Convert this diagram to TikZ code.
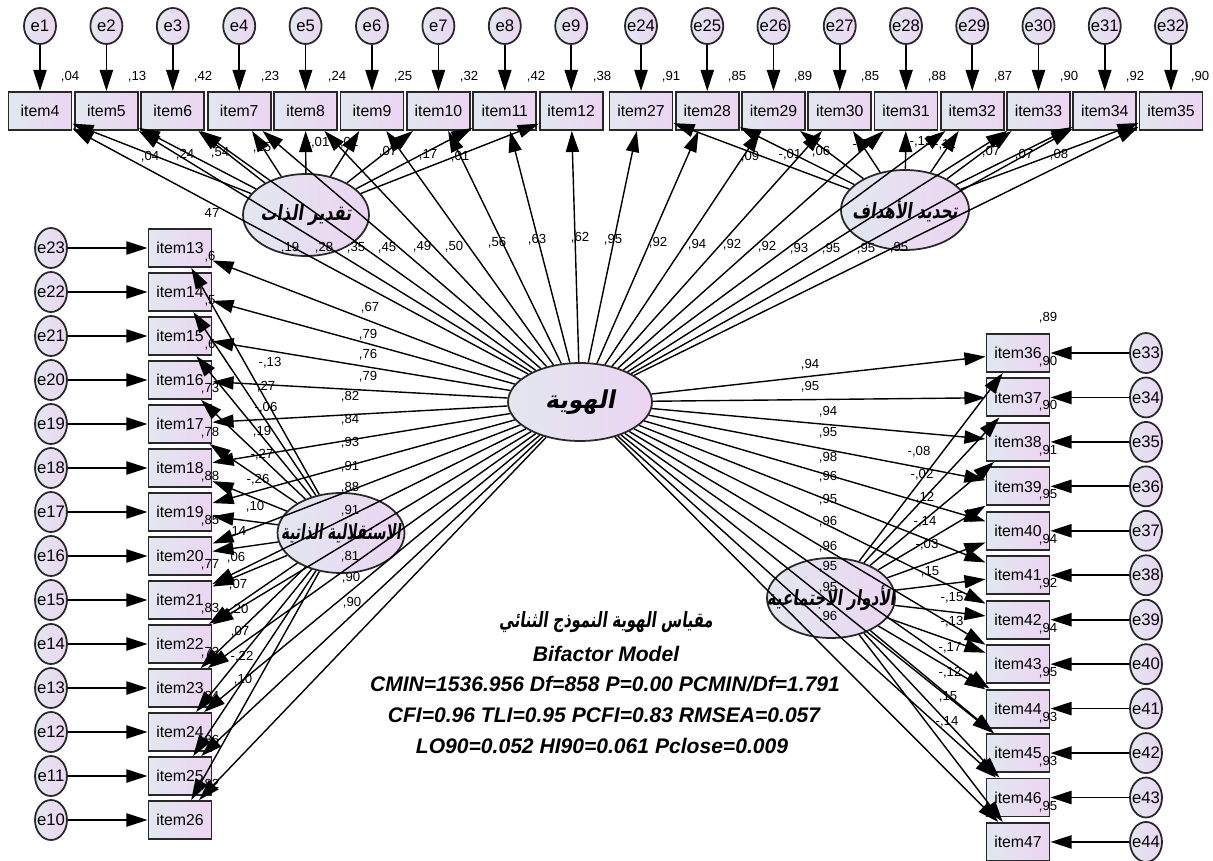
\documentclass[tikz,border=0pt]{standalone}
\usepackage{fontspec}
\setmainfont{Liberation Sans}
\newfontfamily\arabb[Script=Arabic,FakeSlant=0.2]{DejaVu Sans Bold}
\TeXXeTstate=1
\usetikzlibrary{shapes.geometric,arrows.meta}
\definecolor{shL}{RGB}{226,231,240}
\definecolor{shR}{RGB}{236,213,242}
\definecolor{bd}{RGB}{40,40,40}
\tikzset{
 itembox/.style={draw=bd, line width=1.1pt, rectangle, minimum width=1.26cm, minimum height=0.76cm, inner sep=0pt, left color=shL, right color=shR, font=\fontsize{9}{10}\selectfont},
 errc/.style={draw=bd, line width=1pt, ellipse, minimum width=0.64cm, minimum height=0.8cm, inner sep=0pt, left color=shL, right color=shR},
 terrc/.style={errc, minimum height=0.72cm},
 efont/.style={font=\fontsize{9.5}{10}\selectfont, inner sep=0pt},
 latent/.style={draw=bd, line width=1pt, ellipse, inner sep=0pt, left color=shL, right color=shR},
 lattext/.style={font=\arabb\fontsize{12}{14}\selectfont, inner sep=0pt},
 ld/.style={font=\fontsize{7.5}{8}\selectfont, inner sep=0pt},
 arr/.style={-{Triangle[length=12pt,width=7.5pt]}, line width=0.8pt},
 earr/.style={-{Triangle[length=12pt,width=7.5pt]}, line width=1pt},
 fit/.style={font=\bfseries\itshape\fontsize{12}{14}\selectfont, inner sep=0pt},
}
\begin{document}
\begin{tikzpicture}[x=0.02cm,y=-0.02cm]
\useasboundingbox (0,0) rectangle (1213,861);
\fill[white] (0,0) rectangle (1213,861);

% ---------- latent factors
\node[latent, minimum width=2.52cm, minimum height=1.64cm, label={[lattext]center:{\scalebox{0.76}[1]{\beginR تقدير الذات\endR}}}] (SE) at (306,215) {};
\node[latent, minimum width=2.56cm, minimum height=1.6cm, label={[lattext]center:{\scalebox{0.73}[1]{\beginR تحديد الأهداف\endR}}}] (GS) at (905,210) {};
\node[latent, minimum width=2.88cm, minimum height=1.56cm, label={[lattext, font=\arabb\fontsize{14}{16}\selectfont]center:{\scalebox{0.95}[1]{\beginR الهوية\endR}}}] (G) at (580,402) {};
\node[latent, minimum width=2.54cm, minimum height=1.6cm, label={[lattext]center:{\scalebox{0.65}[1]{\beginR الاستقلالية الذاتية\endR}}}] (AU) at (341,533) {};
\node[latent, minimum width=2.56cm, minimum height=1.6cm, label={[lattext]center:{\scalebox{0.72}[1]{\beginR الأدوار الاجتماعية\endR}}}] (SR) at (831,598) {};

% ---------- top-left items
\foreach \n [count=\k from 0] in {4,...,12}{
  \pgfmathsetmacro\xx{40+66.4*\k}
  \pgfmathtruncatemacro\ee{\n-3}
  \node[itembox] (i\n) at (\xx,111) {item\n};
  \node[terrc, label={[efont]center:e\ee}] (e\ee) at (\xx,26) {};
  \draw[earr] (e\ee) -- (i\n);
}
% ---------- top-right items
\foreach \n [count=\k from 0] in {27,...,35}{
  \pgfmathsetmacro\xx{641+66.25*\k}
  \pgfmathtruncatemacro\ee{\n-3}
  \node[itembox] (i\n) at (\xx,111) {item\n};
  \node[terrc, label={[efont]center:e\ee}] (e\ee) at (\xx,26) {};
  \draw[earr] (e\ee) -- (i\n);
}
% ---------- left items
\foreach \n [count=\k from 0] in {13,...,26}{
  \pgfmathsetmacro\yy{248+44*\k}
  \pgfmathtruncatemacro\ee{36-\n}
  \node[itembox] (i\n) at (180,\yy) {item\n};
  \node[errc, label={[efont]center:e\ee}] (e\ee) at (51,\yy) {};
  \draw[earr] (e\ee) -- (i\n);
}
% ---------- right items
\foreach \n [count=\k from 0] in {36,...,47}{
  \pgfmathsetmacro\yy{353+44.45*\k}
  \pgfmathtruncatemacro\ee{\n-3}
  \node[itembox] (i\n) at (1018,\yy) {item\n};
  \node[errc, label={[efont]center:e\ee}] (e\ee) at (1146,\yy) {};
  \draw[earr] (e\ee) -- (i\n);
}

% ---------- loadings (connectors)
\foreach \n in {4,...,47} \draw[arr] (G) -- (i\n);
\foreach \n in {4,...,12} \draw[arr] (SE) -- (i\n);
\foreach \n in {27,...,35} \draw[arr] (GS) -- (i\n);
\foreach \n in {13,...,26} \draw[arr] (AU) -- (i\n);
\foreach \n in {36,...,47} \draw[arr] (SR) -- (i\n);

% ---------- squared multiple correlations, top
\foreach \x/\v [count=\c] in {70/{,04},137/{,13},203/{,42},270/{,23},337/{,24},403/{,25},469/{,32},536/{,42},602/{,38},671/{,91},737/{,85},803/{,89},870/{,85},937/{,88},1003/{,87},1069/{,90},1135/{,92},1200/{,90}}
  \node[ld] (rt\c) at (\x,77) {\v};
% left
\foreach \y/\v [count=\c] in {257/{,6},301/{,5},345/{,6},389/{,73},433/{,78},477/{,88},521/{,85},565/{,77},609/{,83},653/{,73},697/{,84},741/{,86},785/{,82}}
  \node[ld] (rl\c) at (210,\y) {\v};
% right
\node[ld] (rr0) at (1048,318) {,89};
\foreach \y/\v [count=\c] in {362/{,90},406/{,90},451/{,91},495/{,95},540/{,94},584/{,92},629/{,94},673/{,95},718/{,93},762/{,93},807/{,95}}
  \node[ld] (rr\c) at (1048,\y) {\v};

% ---------- specific factor loadings
\foreach \x/\y/\v [count=\c] in {150/157/{,04},185/155/{,24},220/153/{,54},262/148/{,15},318/143/{-,01},347/143/{-,02},388/152/{,07},428/155/{,17},460/157/{,01}}
  \node[ld] (lse\c) at (\x,\y) {\v};
\foreach \x/\y/\v [count=\c] in {750/157/{,09},790/155/{-,01},821/152/{,06},864/145/{-,10},921/142/{-,19},945/145/{-,11},991/152/{,07},1024/155/{,07},1059/155/{,08}}
  \node[ld] (lgs\c) at (\x,\y) {\v};
\foreach \x/\y/\v [count=\c] in {270/363/{-,13},266/387/{,27},266/408/{-,06},262/432/{,19},262/455/{-,27},258/480/{-,26},255/507/{,10},237/532/{,14},236/558/{,06},238/585/{,07},237/610/{-,20},240/632/{,07},242/657/{-,22},243/680/{,10}}
  \node[ld] (lau\c) at (\x,\y) {\v};
\foreach \x/\y/\v [count=\c] in {919/452/{-,08},922/475/{-,02},925/498/{,12},925/522/{-,14},927/545/{-,03},930/572/{,15},952/598/{-,15},952/622/{-,13},950/648/{-,17},950/673/{-,12},948/697/{,15},947/722/{-,14}}
  \node[ld] (lsr\c) at (\x,\y) {\v};

% ---------- general factor loadings
\foreach \x/\y/\v [count=\c] in {212/213/{47},290/248/{,19},324/248/{,28},356/248/{,35},387/248/{,45},422/247/{,49},454/247/{,50},497/243/{,56},537/240/{,63},580/238/{,62}}
  \node[ld] (lg\c) at (\x,\y) {\v};
\foreach \x/\y/\v [count=\c] in {613/240/{,95},658/243/{,92},697/245/{,94},732/245/{,92},767/247/{,92},799/249/{,93},831/249/{,95},866/249/{,95},899/248/{,95}}
  \node[ld] (lgt\c) at (\x,\y) {\v};
\foreach \x/\y/\v [count=\c] in {370/308/{,67},368/335/{,79},368/355/{,76},368/377/{,79},350/397/{,82},350/420/{,84},350/443/{,93},350/467/{,91},350/488/{,88},350/511/{,91},350/557/{,81},351/578/{,90},352/603/{,90}}
  \node[ld] (lgl\c) at (\x,\y) {\v};
\foreach \x/\y/\v [count=\c] in {810/365/{,94},810/387/{,95},828/412/{,94},828/433/{,95},828/458/{,98},828/477/{,96},828/500/{,95},828/522/{,96},828/547/{,96},828/567/{,95},828/588/{,95},828/617/{,96}}
  \node[ld] (lgr\c) at (\x,\y) {\v};

% ---------- fit text
\node[font=\arabb\fontsize{12}{14}\selectfont, inner sep=0pt] (t0) at (606,622) {\scalebox{0.7}[1]{\beginR مقياس الهوية النموذج الثنائي\endR}};
\node[fit] (t1) at (606,654) {Bifactor Model};
\node[fit] (t2) at (605,684) {CMIN=1536.956 Df=858 P=0.00 PCMIN/Df=1.791};
\node[fit] (t3) at (604,715) {CFI=0.96 TLI=0.95 PCFI=0.83 RMSEA=0.057};
\node[fit] (t4) at (602,746) {LO90=0.052 HI90=0.061 Pclose=0.009};
\end{tikzpicture}
\end{document}
